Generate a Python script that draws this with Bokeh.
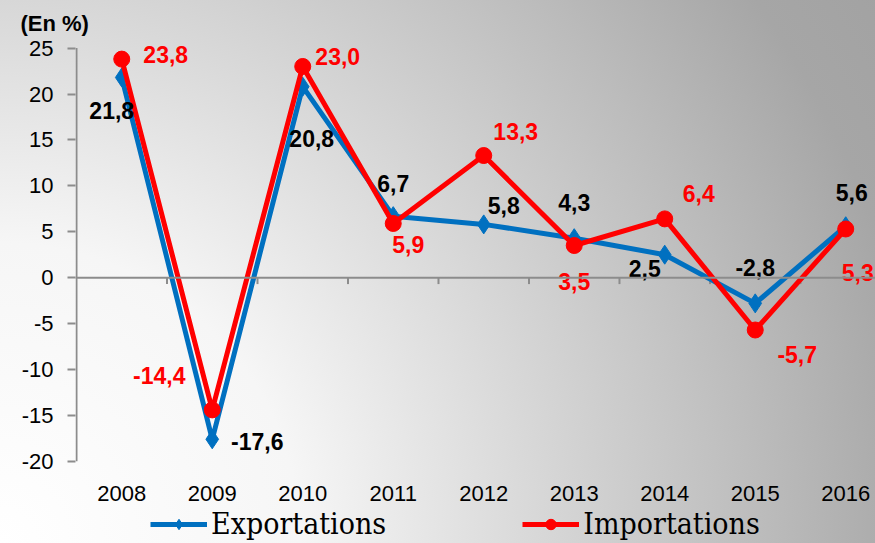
from bokeh.plotting import figure
from bokeh.models import Range1d, FixedTicker, Span, Legend, LegendItem, ColumnDataSource
from bokeh.core.properties import value
from bokeh.embed import file_html
from bokeh.resources import INLINE

# ---- data ----
years = ["2008", "2009", "2010", "2011", "2012", "2013", "2014", "2015", "2016"]
exports = [21.8, -17.6, 20.8, 6.7, 5.8, 4.3, 2.5, -2.8, 5.6]
imports = [23.8, -14.4, 23.0, 5.9, 13.3, 3.5, 6.4, -5.7, 5.3]
y_ticks = [-20, -15, -10, -5, 0, 5, 10, 15, 20, 25]
series_names = ["Exportations", "Importations"]
unit_label = "(En %)"

# label offsets in screen pixels (layout only)
exp_dx = [-10, 45, 9, 0, 20, 0, -20, 0, 6]
exp_dy = [33, 2, 52, -33, -19, -36, 14, -36, -34]
imp_dx = [44, -53, 35, 15, 32, 0, 34, 42, 12]
imp_dy = [-5, -34, -10, 21, -24, 36, -25, 24, 44]

BLUE = "#0070C0"
RED = "#FF0000"
AXIS = "#8c8c8c"
SANS = "Liberation Sans"

idx = list(range(len(years)))
fmt = lambda v: f"{v:.1f}".replace(".", ",")

p = figure(width=875, height=543,
           x_range=Range1d(-0.511, 8.329), y_range=Range1d(-28.95, 25.5),
           output_backend="svg", toolbar_location=None,
           min_border_left=75, min_border_right=0, min_border_top=41, min_border_bottom=0)
p.background_fill_color = None
p.border_fill_color = None
p.outline_line_color = None
p.grid.visible = False
p.styles = {"background": "radial-gradient(circle at 0% 100%, #ffffff 0px, #f6f6f6 300px, #dadada 520px, #bcbcbc 760px, #a6a6a6 930px, #a0a0a0 1100px)"}

# title "(En %)"
p.title.text = unit_label
p.title.align = "left"
p.title.offset = -55
p.title.text_font = SANS
p.title.text_font_style = "bold"
p.title.text_font_size = "22px"
p.title.text_color = "black"
p.title.standoff = 16

# y axis
p.yaxis.ticker = FixedTicker(ticks=y_ticks)
p.yaxis.major_label_overrides = {t: str(t) for t in y_ticks}
p.yaxis.axis_line_color = None
p.yaxis.major_tick_line_color = AXIS
p.yaxis.major_tick_line_width = 2
p.yaxis.major_tick_out = 8
p.yaxis.major_tick_in = 0
p.yaxis.minor_tick_line_color = None
p.yaxis.major_label_standoff = 14
p.yaxis.major_label_text_font = SANS
p.yaxis.major_label_text_font_size = "22px"
p.yaxis.major_label_text_color = "black"
p.segment(x0=[-0.5], y0=[min(y_ticks)], x1=[-0.5], y1=[max(y_ticks)],
          line_color=AXIS, line_width=2)

# x axis: category labels below the plot area
p.xaxis.visible = False
p.text(x=idx, y=[min(y_ticks)] * len(idx), text=years, y_offset=32,
       text_font=value(SANS), text_font_size="22px", text_color="black",
       text_align="center", text_baseline="middle")

# zero line + category boundary ticks
p.add_layout(Span(location=0, dimension="width", line_color=AXIS, line_width=2))
bounds = [i + 0.5 for i in idx]
p.segment(x0=bounds, y0=[0] * len(bounds), x1=bounds, y1=[-0.7] * len(bounds),
          line_color=AXIS, line_width=2)

# series
exp_line = p.line(idx, exports, line_color=BLUE, line_width=5)
exp_pts = p.scatter(idx, exports, marker="diamond", size=19, color=BLUE)
imp_line = p.line(idx, imports, line_color=RED, line_width=5)
imp_pts = p.scatter(idx, imports, marker="circle", size=16, color=RED)

src_e = ColumnDataSource(dict(x=idx, y=exports, t=[fmt(v) for v in exports], dx=exp_dx, dy=exp_dy))
src_i = ColumnDataSource(dict(x=idx, y=imports, t=[fmt(v) for v in imports], dx=imp_dx, dy=imp_dy))
for src, col in ((src_e, "black"), (src_i, RED)):
    p.text(x="x", y="y", text="t", x_offset="dx", y_offset="dy", source=src,
           text_font=value(SANS), text_font_style="bold", text_font_size="23px",
           text_color=col, text_align="center", text_baseline="middle")

legend = Legend(items=[LegendItem(label=series_names[0], renderers=[exp_line, exp_pts]),
                       LegendItem(label=series_names[1], renderers=[imp_line, imp_pts])],
                orientation="horizontal", location=(75, 2),
                glyph_width=57, glyph_height=26, label_standoff=4, spacing=136,
                padding=0, margin=0, background_fill_alpha=0, border_line_alpha=0,
                label_text_font="DejaVu Serif Condensed", label_text_font_size="30px",
                label_text_color="black")
p.add_layout(legend)

open("out.html", "w").write(file_html(p, INLINE))
